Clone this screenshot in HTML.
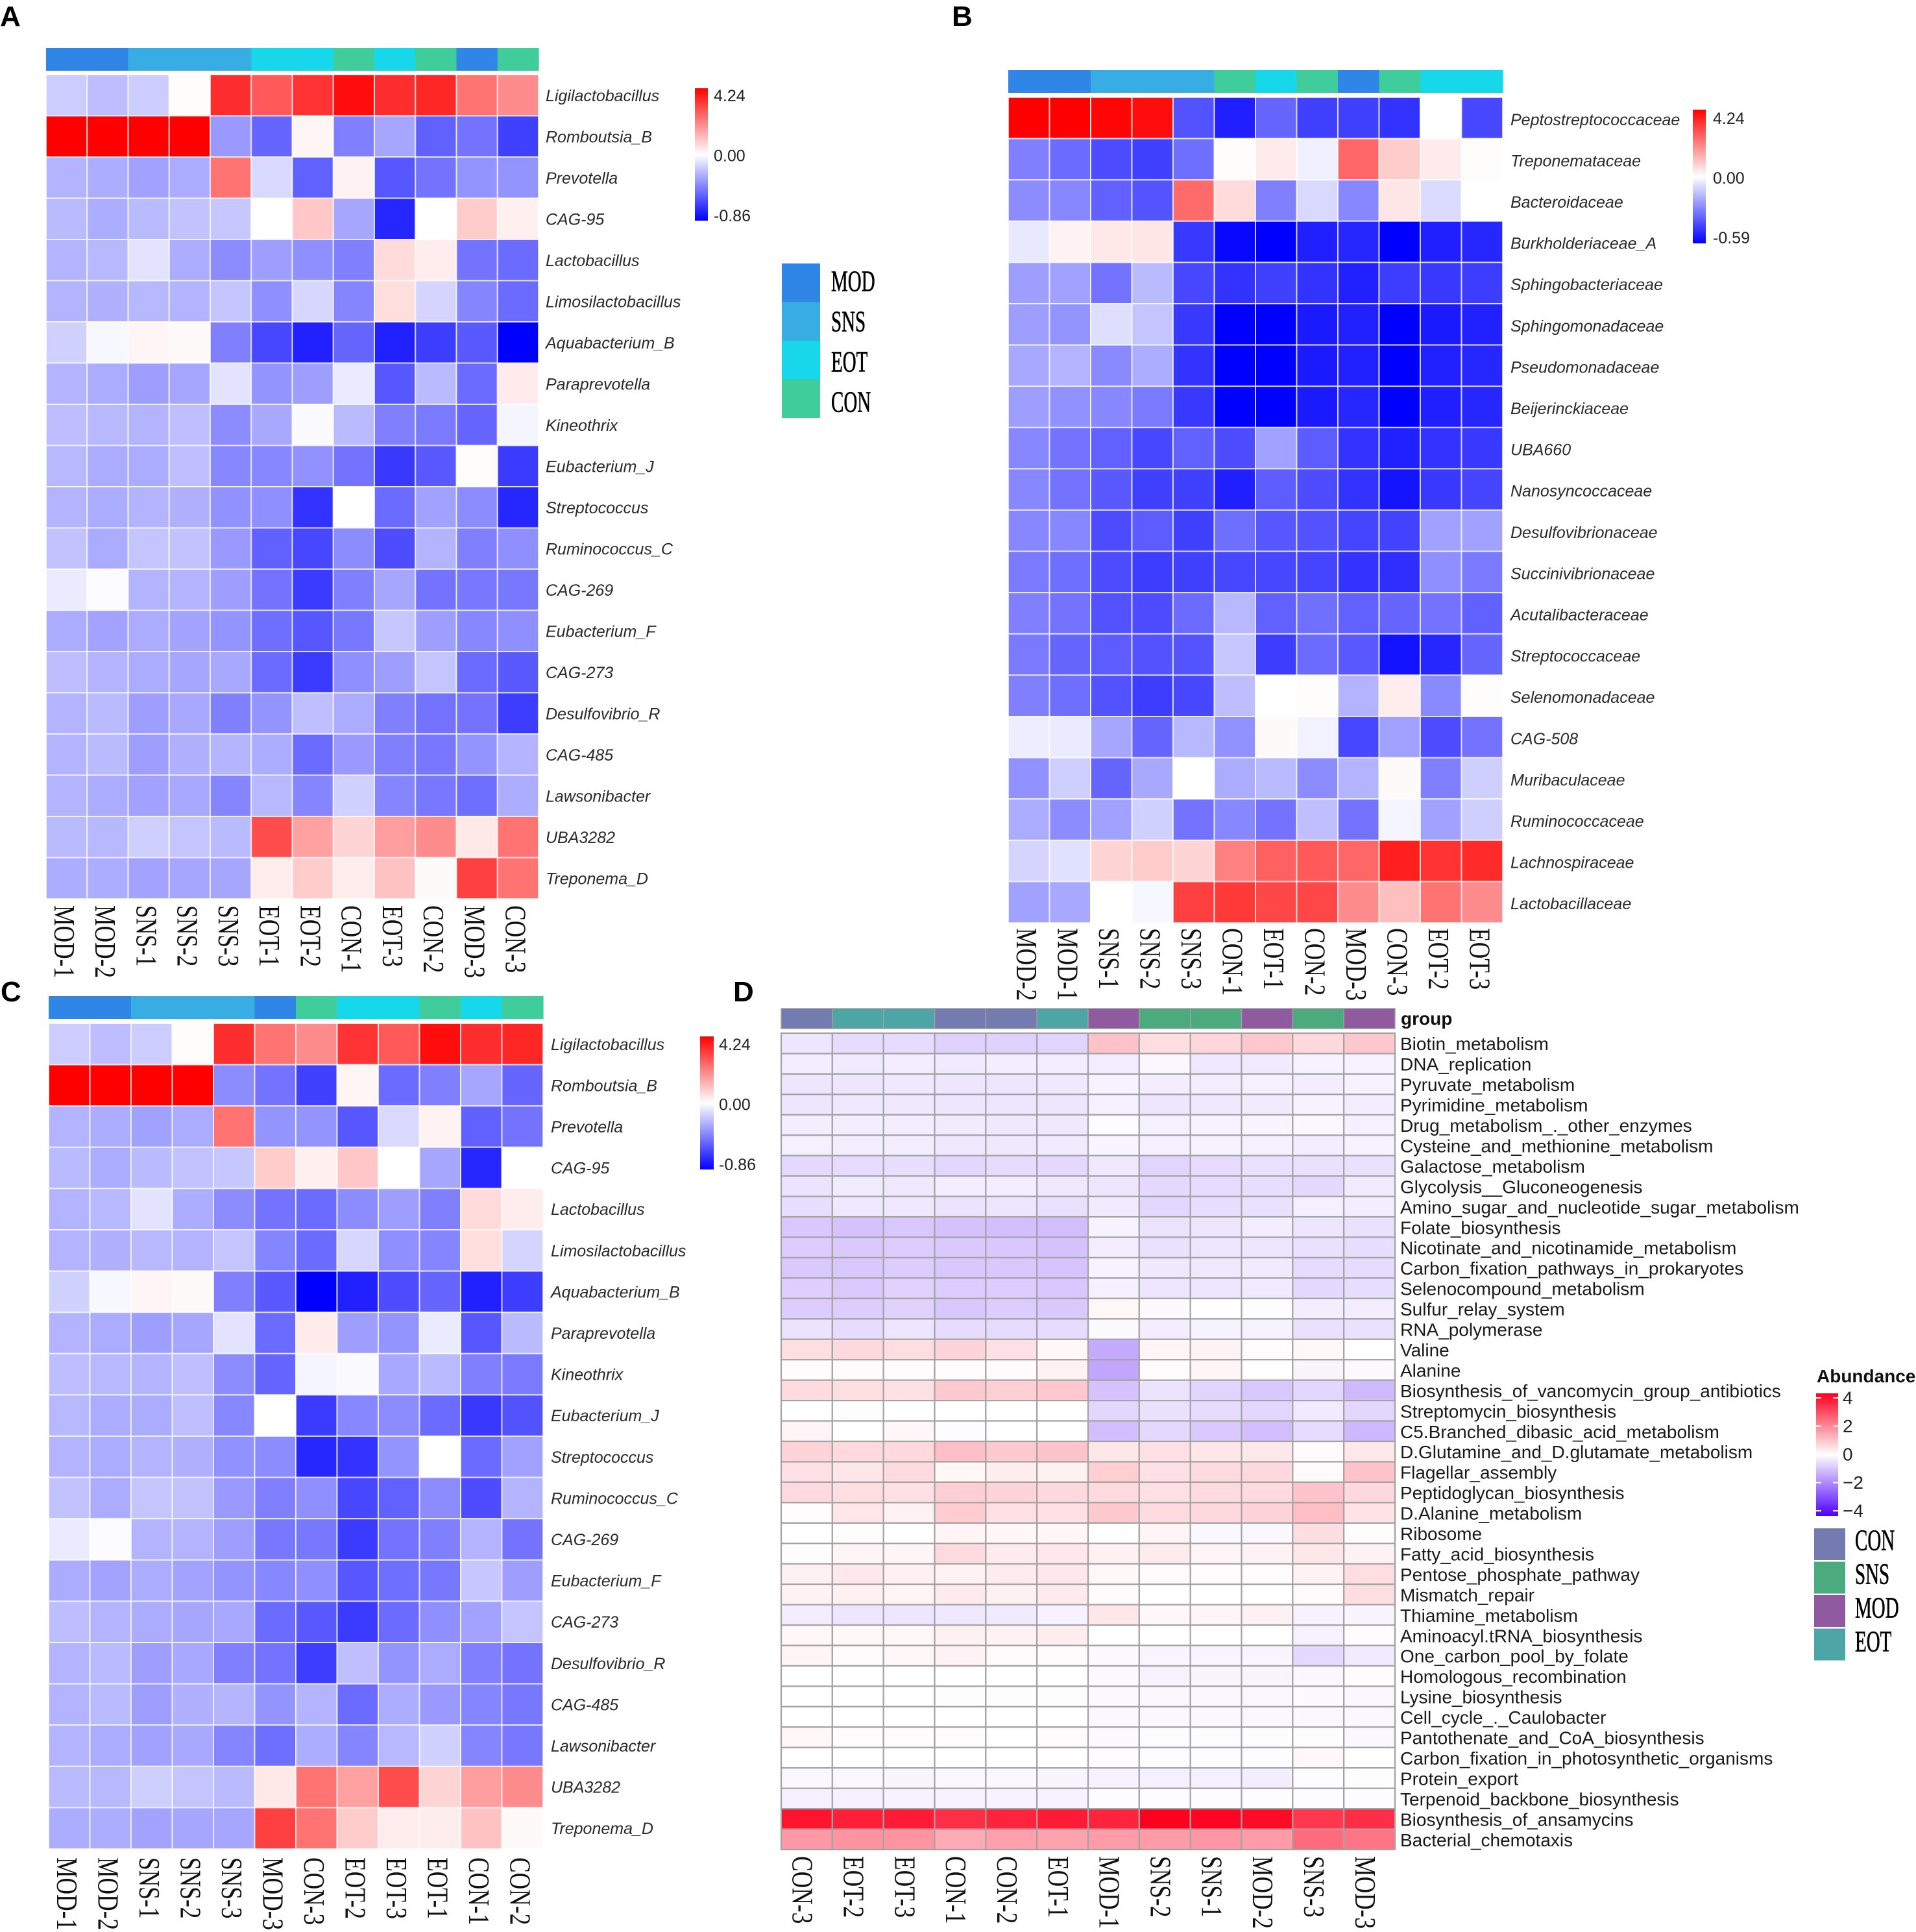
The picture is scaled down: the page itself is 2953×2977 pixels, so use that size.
<!DOCTYPE html>
<html lang="en">
<head>
<meta charset="utf-8">
<title>Heatmap panels A–D</title>
<style>
html,body{margin:0;padding:0;background:#fff;}
svg{display:block;}
text{font-family:"Liberation Sans",Arial,sans-serif;}
</style>
</head>
<body>
<svg id="figure" xmlns="http://www.w3.org/2000/svg" width="2953" height="2977" viewBox="0 0 2953 2977">
<rect x="0" y="0" width="2953" height="2977" fill="#fff"/>
<text x="0" y="40" font-size="44" font-weight="700" fill="#000">A</text>
<text x="1467" y="40" font-size="44" font-weight="700" fill="#000">B</text>
<text x="1" y="1543" font-size="44" font-weight="700" fill="#000">C</text>
<text x="1130" y="1543" font-size="44" font-weight="700" fill="#000">D</text>
<text x="2159" y="1579" font-size="28" font-weight="700" fill="#111">group</text>
<text x="2800" y="2130" font-size="28" font-weight="700" fill="#111">Abundance</text>
</svg>
<script>
/* ---------- Panel A data ---------- */
const panelARows = ["Ligilactobacillus","Romboutsia_B","Prevotella","CAG-95","Lactobacillus","Limosilactobacillus","Aquabacterium_B","Paraprevotella","Kineothrix","Eubacterium_J","Streptococcus","Ruminococcus_C","CAG-269","Eubacterium_F","CAG-273","Desulfovibrio_R","CAG-485","Lawsonibacter","UBA3282","Treponema_D"];
const panelAColumns = ["MOD-1","MOD-2","SNS-1","SNS-2","SNS-3","EOT-1","EOT-2","CON-1","EOT-3","CON-2","MOD-3","CON-3"];
const panelAGroups = ["MOD","MOD","SNS","SNS","SNS","EOT","EOT","CON","EOT","CON","MOD","CON"];
const panelAValues = [
[-20,-26,-20,1,82,65,80,95,82,85,55,45],
[100,100,100,100,-40,-60,4,-50,-35,-62,-55,-75],
[-30,-32,-37,-33,55,-15,-62,5,-66,-55,-42,-42],
[-27,-32,-27,-24,-22,0,22,-35,-85,0,20,6],
[-30,-28,-11,-32,-45,-38,-44,-50,14,7,-55,-58],
[-30,-31,-28,-30,-23,-44,-16,-48,13,-17,-48,-58],
[-18,-3,4,2,-50,-72,-87,-60,-87,-76,-65,-100],
[-30,-33,-38,-35,-11,-42,-38,-8,-66,-27,-58,8],
[-26,-28,-30,-25,-45,-34,-2,-27,-50,-52,-60,-4],
[-28,-33,-33,-25,-47,-47,-43,-55,-78,-65,1,-77],
[-30,-33,-30,-31,-43,-44,-80,0,-58,-37,-45,-85],
[-24,-33,-23,-24,-40,-62,-72,-45,-70,-30,-50,-44],
[-8,-1,-30,-30,-38,-55,-77,-50,-35,-55,-53,-53],
[-33,-36,-33,-36,-42,-57,-66,-53,-22,-38,-47,-44],
[-26,-30,-33,-35,-34,-58,-77,-44,-38,-23,-58,-65],
[-30,-27,-38,-34,-50,-42,-25,-33,-50,-55,-55,-76],
[-30,-27,-38,-31,-29,-32,-58,-40,-50,-53,-42,-30],
[-30,-33,-37,-34,-48,-28,-48,-18,-48,-53,-57,-32],
[-27,-28,-19,-23,-27,70,37,17,38,45,9,55],
[-32,-32,-36,-35,-35,7,20,7,24,2,75,55]
];
const panelATickLabels = ["4.24","0.00","-0.86"];

/* ---------- Panel B data ---------- */
const panelBRows = ["Peptostreptococcaceae","Treponemataceae","Bacteroidaceae","Burkholderiaceae_A","Sphingobacteriaceae","Sphingomonadaceae","Pseudomonadaceae","Beijerinckiaceae","UBA660","Nanosyncoccaceae","Desulfovibrionaceae","Succinivibrionaceae","Acutalibacteraceae","Streptococcaceae","Selenomonadaceae","CAG-508","Muribaculaceae","Ruminococcaceae","Lachnospiraceae","Lactobacillaceae"];
const panelBColumns = ["MOD-2","MOD-1","SNS-1","SNS-2","SNS-3","CON-1","EOT-1","CON-2","MOD-3","CON-3","EOT-2","EOT-3"];
const panelBGroups = ["MOD","MOD","SNS","SNS","SNS","CON","EOT","CON","MOD","CON","EOT","EOT"];
const panelBValues = [
[100,100,98,95,-68,-88,-60,-75,-75,-80,0,-72],
[-50,-58,-70,-75,-57,1,8,-6,60,20,8,1],
[-45,-47,-62,-67,58,14,-50,-15,-47,10,-14,0],
[-9,5,9,10,-78,-97,-100,-88,-85,-100,-88,-85],
[-38,-37,-55,-27,-72,-80,-75,-80,-87,-76,-78,-76],
[-38,-42,-13,-23,-78,-100,-100,-90,-87,-100,-90,-87],
[-34,-30,-46,-32,-80,-100,-100,-90,-87,-100,-87,-85],
[-38,-43,-47,-52,-78,-100,-100,-90,-85,-100,-88,-85],
[-47,-55,-62,-72,-62,-70,-37,-64,-80,-87,-80,-78],
[-47,-55,-65,-75,-75,-88,-64,-70,-80,-92,-78,-73],
[-47,-47,-70,-64,-75,-57,-66,-68,-73,-74,-37,-37],
[-52,-57,-70,-76,-75,-72,-72,-73,-80,-82,-44,-52],
[-50,-55,-68,-70,-58,-28,-62,-56,-62,-60,-55,-62],
[-52,-60,-64,-68,-67,-22,-76,-58,-65,-93,-85,-60],
[-50,-57,-68,-76,-72,-26,0,1,-30,7,-46,1],
[-7,-8,-35,-60,-28,-43,2,-5,-72,-37,-70,-55],
[-43,-19,-60,-34,0,-33,-27,-45,-30,2,-50,-19],
[-33,-45,-37,-18,-55,-47,-55,-25,-55,-4,-37,-19],
[-17,-12,17,20,17,50,62,65,60,88,80,83],
[-37,-34,0,-3,75,78,72,72,45,25,55,45]
];
const panelBTickLabels = ["4.24","0.00","-0.59"];

/* ---------- Panel C data ---------- */
const panelCRows = panelARows.slice();
const panelCColumns = ["MOD-1","MOD-2","SNS-1","SNS-2","SNS-3","MOD-3","CON-3","EOT-2","EOT-3","EOT-1","CON-1","CON-2"];
const panelCGroups = ["MOD","MOD","SNS","SNS","SNS","MOD","CON","EOT","EOT","CON","EOT","CON"];
const panelCValues = [
[-20,-26,-20,1,82,55,45,80,65,95,82,85],
[100,100,100,100,-45,-55,-75,4,-58,-50,-35,-60],
[-30,-32,-37,-33,55,-42,-42,-66,-15,5,-62,-55],
[-27,-32,-27,-24,-22,20,6,22,0,-35,-85,0],
[-30,-28,-11,-32,-45,-55,-58,-45,-38,-50,14,7],
[-30,-31,-28,-30,-23,-48,-58,-16,-44,-48,13,-17],
[-18,-3,4,2,-50,-65,-100,-87,-70,-60,-87,-76],
[-30,-33,-38,-35,-11,-58,8,-38,-42,-8,-66,-27],
[-26,-28,-30,-25,-45,-60,-4,-2,-34,-27,-50,-52],
[-28,-33,-33,-25,-47,0,-77,-47,-45,-58,-78,-68],
[-30,-33,-30,-31,-43,-45,-85,-80,-42,0,-58,-37],
[-24,-33,-23,-24,-40,-50,-44,-72,-62,-45,-70,-30],
[-8,-1,-30,-30,-38,-53,-53,-77,-55,-50,-30,-55],
[-33,-36,-33,-36,-42,-47,-44,-66,-57,-53,-22,-38],
[-26,-30,-33,-35,-34,-58,-65,-77,-58,-44,-36,-23],
[-30,-27,-38,-34,-50,-55,-76,-25,-42,-33,-50,-55],
[-30,-27,-38,-31,-29,-42,-30,-58,-32,-40,-48,-53],
[-30,-33,-37,-34,-48,-57,-32,-48,-28,-18,-48,-53],
[-27,-28,-19,-23,-27,9,55,37,70,17,38,45],
[-32,-32,-36,-35,-35,75,55,20,7,7,24,2]
];
const panelCTickLabels = ["4.24","0.00","-0.86"];

/* ---------- Panel D data ---------- */
const panelDRows = ["Biotin_metabolism","DNA_replication","Pyruvate_metabolism","Pyrimidine_metabolism","Drug_metabolism_._other_enzymes","Cysteine_and_methionine_metabolism","Galactose_metabolism","Glycolysis__Gluconeogenesis","Amino_sugar_and_nucleotide_sugar_metabolism","Folate_biosynthesis","Nicotinate_and_nicotinamide_metabolism","Carbon_fixation_pathways_in_prokaryotes","Selenocompound_metabolism","Sulfur_relay_system","RNA_polymerase","Valine","Alanine","Biosynthesis_of_vancomycin_group_antibiotics","Streptomycin_biosynthesis","C5.Branched_dibasic_acid_metabolism","D.Glutamine_and_D.glutamate_metabolism","Flagellar_assembly","Peptidoglycan_biosynthesis","D.Alanine_metabolism","Ribosome","Fatty_acid_biosynthesis","Pentose_phosphate_pathway","Mismatch_repair","Thiamine_metabolism","Aminoacyl.tRNA_biosynthesis","One_carbon_pool_by_folate","Homologous_recombination","Lysine_biosynthesis","Cell_cycle_._Caulobacter","Pantothenate_and_CoA_biosynthesis","Carbon_fixation_in_photosynthetic_organisms","Protein_export","Terpenoid_backbone_biosynthesis","Biosynthesis_of_ansamycins","Bacterial_chemotaxis"];
const panelDColumns = ["CON-3","EOT-2","EOT-3","CON-1","CON-2","EOT-1","MOD-1","SNS-2","SNS-1","MOD-2","SNS-3","MOD-3"];
const panelDGroups = ["CON","EOT","EOT","CON","CON","EOT","MOD","SNS","SNS","MOD","SNS","MOD"];
const panelDValues = [
[-10,-14,-14,-18,-18,-17,24,13,16,22,15,22],
[-7,-8,-7,-8,-7,-7,-7,-3,-9,-8,-5,-5],
[-10,-10,-9,-10,-10,-9,-5,-7,-7,-6,-7,-5],
[-10,-9,-9,-10,-10,-10,-6,-10,-9,-8,-5,-7],
[-7,-7,-7,-8,-9,-9,-1,-6,-5,-4,-3,-6],
[-6,-7,-7,-9,-9,-8,-4,-6,-5,-6,-7,-5],
[-15,-14,-13,-16,-14,-15,-9,-17,-14,-12,-12,-12],
[-11,-8,-9,-7,-7,-9,-10,-15,-14,-13,-15,-8],
[-13,-9,-9,-11,-10,-12,-8,-16,-13,-12,-6,-7],
[-22,-24,-22,-24,-25,-26,-5,-11,-10,-7,-10,-12],
[-20,-21,-20,-21,-22,-24,-7,-12,-10,-10,-12,-13],
[-21,-22,-20,-22,-22,-23,-5,-9,-9,-8,-14,-14],
[-19,-21,-18,-20,-20,-22,-6,-10,-10,-8,-15,-13],
[-20,-20,-18,-22,-20,-21,3,-2,0,-1,-7,-7],
[-11,-14,-10,-14,-14,-14,-2,-7,-5,-5,-12,-12],
[13,15,13,17,12,3,-33,4,5,1,3,0],
[1,2,1,1,2,5,-35,1,4,0,-4,-2],
[14,13,12,21,19,22,-24,-11,-17,-22,-16,-27],
[0,-1,0,0,0,0,-16,-12,-14,-16,-8,-16],
[4,0,3,-1,0,0,-25,-15,-21,-25,-14,-28],
[17,15,15,25,21,23,10,12,10,9,2,9],
[12,10,14,3,7,6,19,12,14,15,2,23],
[14,13,12,19,17,15,14,12,14,14,23,15],
[1,10,5,20,12,12,21,14,15,17,26,11],
[0,1,0,4,3,3,0,4,-3,-3,13,1],
[1,4,4,14,8,9,6,8,4,5,10,5],
[6,9,6,5,8,9,3,2,1,1,5,13],
[5,6,4,8,6,8,2,0,0,0,2,13],
[-7,-10,-10,-9,-8,-5,10,3,4,6,-5,-4],
[3,3,3,6,5,7,0,0,0,0,-5,1],
[4,2,3,5,2,2,-2,-4,-4,-4,-15,-8],
[0,0,0,0,0,0,-2,-5,-4,-4,-3,1],
[0,0,0,1,1,1,-2,-3,-3,-3,-2,-3],
[0,0,0,0,0,0,-3,-3,-3,-3,-3,-3],
[3,1,1,1,0,2,-2,-1,-1,-1,-1,-3],
[0,0,0,0,0,0,1,-1,-1,-1,3,0],
[-3,-3,-4,-3,-3,-4,-5,-6,-6,-7,-1,1],
[-6,-6,-5,-5,-5,-5,-1,-1,-1,-1,-1,-1],
[92,88,90,82,86,90,86,100,98,96,78,82],
[40,42,42,33,37,36,39,39,41,39,58,54]
];
const panelDTickLabels = ["4","2","0","\u22122","\u22124"];

/* legend tick values on the shared -100..100 colour axis */
const threeTickValues = [100,0,-100];
const fiveTickValues = [100,50,0,-50,-100];
const legendGroupsBlue = ["MOD","SNS","EOT","CON"];
const legendGroupsPurple = ["CON","SNS","MOD","EOT"];

/* ---------- helpers ---------- */
const svg = document.getElementById('figure');
const NS = 'http://www.w3.org/2000/svg';
const bluePalette = {MOD:'#2f86e6',SNS:'#38ade3',EOT:'#17d8ea',CON:'#3fcd9c'};
const purplePalette = {CON:'#747bb0',EOT:'#4da5a6',MOD:'#8f5a9f',SNS:'#4cab7e'};
const lowHigh = {blue:{low:[0,0,255],high:[255,0,0]},purple:{low:[80,0,255],high:[255,0,30]}};

function el(tag, attrs, parent){
  const n = document.createElementNS(NS, tag);
  for (const k in attrs) n.setAttribute(k, attrs[k]);
  (parent || svg).appendChild(n);
  return n;
}
function colorFor(v, scheme){
  const end = v < 0 ? lowHigh[scheme].low : lowHigh[scheme].high;
  const t = Math.min(1, Math.abs(v) / 100);
  const c = end.map(e => Math.round(255 + (e - 255) * t));
  return 'rgb(' + c.join(',') + ')';
}
function slug(s){ return s.toLowerCase().replace(/[^a-z0-9]+/g,'-').replace(/^-|-$/g,''); }

function drawHeatmap(p){
  const g = el('g', {});
  
  
  const bandX = (p.x1 - p.x0) / p.columns.length;
  const bandY = (p.y1 - p.y0) / p.rows.length;
  const xScale = j => p.x0 + j * bandX;
  const yScale = i => p.y0 + i * bandY;

  p.groups.forEach((grp, j) => {
    const r = el('rect', {x:xScale(j), y:p.annY0, width:bandX + (p.annStroke ? 0 : 0.6), height:p.annY1 - p.annY0, fill:p.palette[grp]}, g);
    if (p.annStroke) { r.setAttribute('stroke', p.annStroke); r.setAttribute('stroke-width', 1.5); }
    
    
  });

  p.values.forEach((row, i) => {
    row.forEach((v, j) => {
      const r = el('rect', {x:xScale(j), y:yScale(i), width:bandX, height:bandY, fill:colorFor(v, p.scheme), stroke:p.gridColor, 'stroke-width':p.gridWidth}, g);
      
      
    });
  });

  p.rows.forEach((label, i) => {
    const t = el('text', {x:p.labelX, y:yScale(i) + bandY / 2 + p.labelDy, 'font-size':p.labelSize, 'font-style':p.labelItalic ? 'italic' : 'normal', fill:p.labelColor, 'dominant-baseline':'central'}, g);
    t.textContent = label;
    
    
  });

  p.columns.forEach((label, j) => {
    const cx = xScale(j) + bandX / 2 + p.colDx;
    const t = el('text', {transform:'translate(' + cx + ',' + p.colY + ') rotate(90) scale(0.77,1)', 'font-size':46, fill:'#111', 'dominant-baseline':'central', style:'font-family:"Liberation Serif",serif'}, g);
    t.textContent = label;
    
    
  });
}

function drawColorbar(c){
  const defs = el('defs', {});
  const grad = el('linearGradient', {id:'grad-' + c.id, x1:0, y1:0, x2:0, y2:1}, defs);
  for (let s = 0; s <= 10; s++){
    el('stop', {offset:(s * 10) + '%', 'stop-color':colorFor(100 - s * 20, c.scheme)}, grad);
  }
  const bar = el('rect', {x:c.x0, y:c.y0, width:c.x1 - c.x0, height:c.y1 - c.y0, fill:'url(#grad-' + c.id + ')'});
  
  
  const yTick = v => c.tickTop + (100 - v) * (c.tickBottom - c.tickTop) / 200;
  c.tickValues.forEach((v, i) => {
    if (c.marks){
      const a = el('rect', {x:c.x0, y:yTick(v) - 1, width:8, height:2, fill:'#fff'});
      
      
      const b = el('rect', {x:c.x1 - 8, y:yTick(v) - 1, width:8, height:2, fill:'#fff'});
      
      
    }
    const t = el('text', {x:c.labelX, y:yTick(v), 'font-size':c.labelSize, fill:'#222', 'dominant-baseline':'central'});
    t.textContent = c.tickLabels[i];
    
    
  });
}

function drawGroupLegend(l){
  l.names.forEach((name, i) => {
    const y = l.y0 + i * l.step;
    const r = el('rect', {x:l.x0, y:y, width:l.x1 - l.x0, height:l.size, fill:l.palette[name]});
    
    
    const t = el('text', {transform:'translate(' + l.textX + ',' + (l.textY0 + i * l.textStep) + ') scale(0.63,1)', 'font-size':46, fill:'#000', stroke:'#000', 'stroke-width':0.7, 'dominant-baseline':'central', style:'font-family:"Liberation Serif",serif'});
    t.textContent = name;
    
    
  });
}

/* ---------- draw ---------- */
const whiteGrid = {gridColor:'rgba(255,255,255,0.72)', gridWidth:2, labelSize:25, labelItalic:true, labelColor:'#2a2a2a', labelDy:1, scheme:'blue', palette:bluePalette, colDx:-3};

drawHeatmap(Object.assign({}, whiteGrid, {id:'a', rows:panelARows, columns:panelAColumns, groups:panelAGroups, values:panelAValues, x0:71, x1:830, y0:115, y1:1385, annY0:74, annY1:109, labelX:841, colY:1395}));
drawHeatmap(Object.assign({}, whiteGrid, {id:'b', rows:panelBRows, columns:panelBColumns, groups:panelBGroups, values:panelBValues, x0:1554, x1:2316, y0:150, y1:1422, annY0:108, annY1:143, labelX:2328, colY:1430, labelDy:3}));
drawHeatmap(Object.assign({}, whiteGrid, {id:'c', rows:panelCRows, columns:panelCColumns, groups:panelCGroups, values:panelCValues, x0:75, x1:837, y0:1577, y1:2849, annY0:1535, annY1:1570, labelX:849, colY:2862}));
drawHeatmap({id:'d', rows:panelDRows, columns:panelDColumns, groups:panelDGroups, values:panelDValues, x0:1204, x1:2150, y0:1592, y1:2850, annY0:1554, annY1:1585, annStroke:'#a0a0a0', labelX:2158, colY:2860, gridColor:'#a3a3a3', gridWidth:2.2, labelSize:28, labelItalic:false, labelColor:'#1a1a1a', labelDy:1, scheme:'purple', palette:purplePalette, colDx:-6});

drawColorbar({id:'a', scheme:'blue', x0:1071, x1:1091, y0:136, y1:340, tickTop:148, tickBottom:333, tickValues:threeTickValues, tickLabels:panelATickLabels, labelX:1100, labelSize:25});
drawColorbar({id:'b', scheme:'blue', x0:2609, x1:2629, y0:169, y1:375, tickTop:183, tickBottom:367, tickValues:threeTickValues, tickLabels:panelBTickLabels, labelX:2640, labelSize:25});
drawColorbar({id:'c', scheme:'blue', x0:1079, x1:1100, y0:1597, y1:1802, tickTop:1610, tickBottom:1795, tickValues:threeTickValues, tickLabels:panelCTickLabels, labelX:1108, labelSize:25});
drawColorbar({id:'d', scheme:'purple', x0:2799, x1:2833, y0:2147, y1:2336, tickTop:2154, tickBottom:2328, tickValues:fiveTickValues, tickLabels:panelDTickLabels, labelX:2840, labelSize:28, marks:true});

drawGroupLegend({names:legendGroupsBlue, palette:bluePalette, x0:1205, x1:1264, y0:406, step:59.5, size:59.5, textX:1281, textY0:434, textStep:62});
drawGroupLegend({names:legendGroupsPurple, palette:purplePalette, x0:2796, x1:2844, y0:2355, step:51.5, size:49, textX:2859, textY0:2374, textStep:52});
</script>
</body>
</html>
